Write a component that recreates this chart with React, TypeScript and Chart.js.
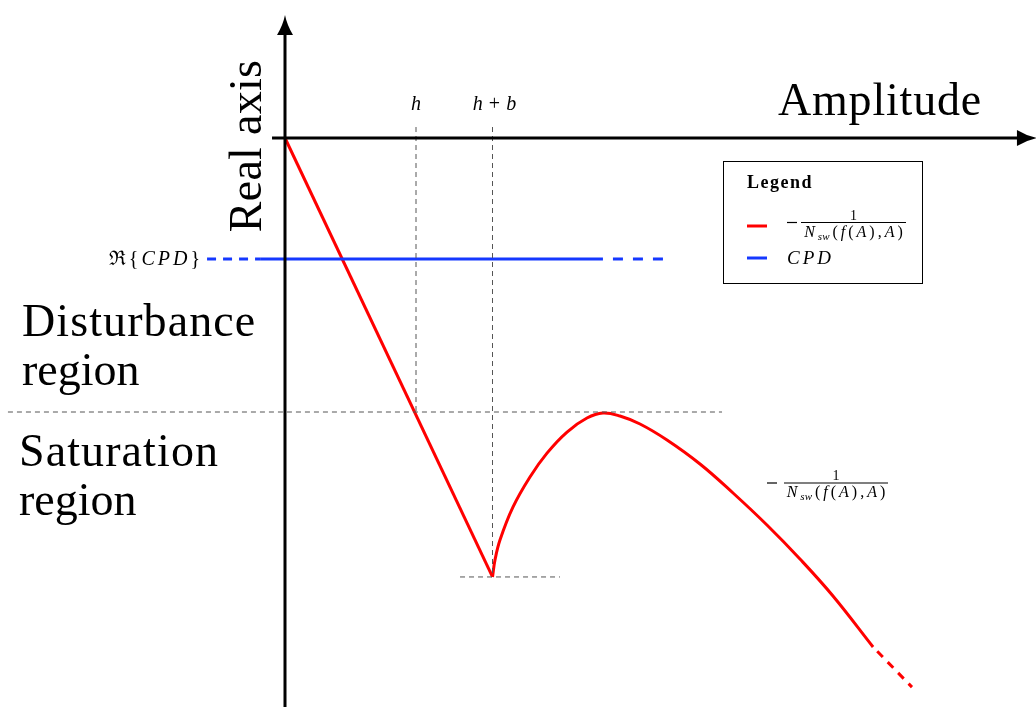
import React, { useEffect, useRef } from 'react';
import { Chart, registerables } from 'chart.js';

Chart.register(...registerables);

// ---- Data (normalised units: h = 1 on the amplitude axis, disturbance/saturation boundary = -1 on the real axis)
const H = 1.0;
const H_PLUS_B = 1.584;
const CPD_RE = -0.4416;
const BOUNDARY_RE = -1.0;
const MIN_RE = -1.602;

const X_RANGE = [-2.1756, 5.7328];
const Y_RANGE = [-2.0766, 0.5036];

const descentX = [0, 1.584];
const descentY = [0, -1.602];
const curveX = [1.584, 1.603, 1.641, 1.74, 1.87, 2.0, 2.153, 2.305, 2.427, 2.557, 2.71, 2.916, 3.168, 3.42, 3.679, 3.931, 4.183, 4.489];
const curveY = [-1.602, -1.54, -1.467, -1.347, -1.237, -1.15, -1.073, -1.022, -1.0036, -1.0146, -1.0438, -1.1022, -1.1898, -1.2956, -1.4124, -1.5365, -1.6715, -1.8577];
const tailX = [4.489, 4.786];
const tailY = [-1.8577, -2.004];
const cpdSolidX = [-0.19, 2.427];
const cpdDashLeftX = [-0.595, -0.19];
const cpdDashRightX = [2.427, 2.9];
const boundaryX = [-2.115, 3.336];
const hGuideY = [0.04, -1.0];
const hbGuideY = [0.04, -1.602];
const minGuideX = [1.336, 2.099];
const xAxisX = [-0.099, 5.74];
const yAxisY = [-2.0766, 0.449];

const RED = '#ff0000';
const BLUE = '#1538ff';
const GREY = '#555555';

const zip = (xs: number[], ys: number[]) => xs.map((x, i) => ({ x, y: ys[i] }));
const flatY = (xs: number[], y: number) => xs.map((x) => ({ x, y }));
const flatX = (x: number, ys: number[]) => ys.map((y) => ({ x, y }));

type Run = { t: string; it?: boolean; size: number; dy?: number; bold?: boolean };

function font(r: Run) {
  return `${r.it ? 'italic ' : ''}${r.bold ? 'bold ' : ''}${r.size}px "Liberation Serif"`;
}

function drawRuns(ctx: CanvasRenderingContext2D, runs: Run[], x: number, y: number, gap: number, align: 'left' | 'center' | 'right') {
  ctx.save();
  ctx.textBaseline = 'alphabetic';
  ctx.textAlign = 'left';
  const widths = runs.map((r) => {
    ctx.font = font(r);
    return ctx.measureText(r.t).width;
  });
  const total = widths.reduce((a, b) => a + b, 0) + gap * (runs.length - 1);
  let cx = align === 'left' ? x : align === 'center' ? x - total / 2 : x - total;
  runs.forEach((r, i) => {
    ctx.font = font(r);
    ctx.fillText(r.t, cx, y + (r.dy || 0));
    cx += widths[i] + gap;
  });
  ctx.restore();
  return total;
}

function drawFraction(ctx: CanvasRenderingContext2D, minusLeft: number, barLeft: number, barRight: number, barY: number) {
  ctx.save();
  ctx.fillStyle = '#000';
  ctx.fillRect(minusLeft, barY - 0.6, 10, 1.2);
  ctx.fillRect(barLeft, barY - 0.5, barRight - barLeft, 1);
  const cx = (barLeft + barRight) / 2;
  drawRuns(ctx, [{ t: '1', size: 14 }], cx, barY - 3, 0, 'center');
  const den: Run[] = [
    { t: 'N', it: true, size: 16 },
    { t: 'sw', it: true, size: 11, dy: 3 },
    { t: '(', size: 16 },
    { t: 'f', it: true, size: 16 },
    { t: '(', size: 16 },
    { t: 'A', it: true, size: 16 },
    { t: ')', size: 16 },
    { t: ',', size: 16 },
    { t: 'A', it: true, size: 16 },
    { t: ')', size: 16 },
  ];
  let sum = 0;
  den.forEach((r) => {
    ctx.font = font(r);
    sum += ctx.measureText(r.t).width;
  });
  const gap = Math.max(0.5, Math.min(3, (barRight - barLeft - 4 - sum) / (den.length - 1)));
  drawRuns(ctx, den, cx, barY + 14, gap, 'center');
  ctx.restore();
}

const annotations = {
  id: 'annotations',
  afterDatasetsDraw(chart: any) {
    const ctx: CanvasRenderingContext2D = chart.ctx;
    const xs = chart.scales.x;
    const ys = chart.scales.y;
    const px = (v: number) => xs.getPixelForValue(v);
    const py = (v: number) => ys.getPixelForValue(v);
    ctx.save();
    // axes
    ctx.strokeStyle = '#000';
    ctx.fillStyle = '#000';
    ctx.lineWidth = 3;
    ctx.beginPath();
    ctx.moveTo(px(xAxisX[0]), py(0));
    ctx.lineTo(px(xAxisX[1]) - 10, py(0));
    ctx.moveTo(px(0), py(yAxisY[0]));
    ctx.lineTo(px(0), py(yAxisY[1]) + 10);
    ctx.stroke();
    // arrowheads
    const tipX = px(xAxisX[1]);
    const ay = py(0);
    ctx.beginPath();
    ctx.moveTo(tipX, ay);
    ctx.quadraticCurveTo(tipX - 10, ay + 2, tipX - 20, ay + 8);
    ctx.lineTo(tipX - 20, ay - 8);
    ctx.quadraticCurveTo(tipX - 10, ay - 2, tipX, ay);
    ctx.fill();
    const tipY = py(yAxisY[1]);
    const ax = px(0);
    ctx.beginPath();
    ctx.moveTo(ax, tipY);
    ctx.quadraticCurveTo(ax + 2, tipY + 10, ax + 8, tipY + 20);
    ctx.lineTo(ax - 8, tipY + 20);
    ctx.quadraticCurveTo(ax - 2, tipY + 10, ax, tipY);
    ctx.fill();

    // axis titles
    ctx.save();
    ctx.font = '46px "Liberation Serif"';
    (ctx as any).letterSpacing = '0.8px';
    ctx.textBaseline = 'alphabetic';
    ctx.textAlign = 'left';
    ctx.fillText('Amplitude', 778, 115);
    ctx.save();
    (ctx as any).letterSpacing = '0.3px';
    ctx.translate(261, 146);
    ctx.rotate(-Math.PI / 2);
    ctx.textAlign = 'center';
    ctx.fillText('Real axis', 0, 0);
    ctx.restore();

    // region labels
    ctx.textAlign = 'left';
    (ctx as any).letterSpacing = '1.1px';
    ctx.fillText('Disturbance', 22, 336);
    ctx.fillText('Saturation', 19, 466);
    (ctx as any).letterSpacing = '0px';
    ctx.fillText('region', 22, 385);
    ctx.fillText('region', 19, 515);
    ctx.restore();

    // h, h+b
    drawRuns(ctx, [{ t: 'h', it: true, size: 20 }], px(H), 110, 0, 'center');
    drawRuns(ctx, [{ t: 'h', it: true, size: 20 }, { t: '+', size: 20 }, { t: 'b', it: true, size: 20 }], px(H_PLUS_B) + 2, 110, 6, 'center');

    // Re{CPD}
    drawRuns(
      ctx,
      [
        { t: 'ℜ', size: 20 },
        { t: '{', size: 20 },
        { t: 'C', it: true, size: 20 },
        { t: 'P', it: true, size: 20 },
        { t: 'D', it: true, size: 20 },
        { t: '}', size: 20 },
      ],
      200,
      py(CPD_RE) + 6,
      3,
      'right'
    );

    // curve label
    drawFraction(ctx, 767, 784, 888, 483);

    // legend
    ctx.fillStyle = '#fff';
    ctx.fillRect(723.5, 161.5, 199, 122);
    ctx.strokeStyle = '#000';
    ctx.lineWidth = 1;
    ctx.strokeRect(723.5, 161.5, 199, 122);
    ctx.fillStyle = '#000';
    ctx.save();
    ctx.font = 'bold 18px "Liberation Serif"';
    (ctx as any).letterSpacing = '1.5px';
    ctx.textAlign = 'left';
    ctx.fillText('Legend', 747, 188);
    ctx.restore();
    ctx.lineWidth = 3;
    ctx.strokeStyle = RED;
    ctx.beginPath();
    ctx.moveTo(747, 226);
    ctx.lineTo(767, 226);
    ctx.stroke();
    ctx.strokeStyle = BLUE;
    ctx.beginPath();
    ctx.moveTo(747, 258);
    ctx.lineTo(767, 258);
    ctx.stroke();
    drawFraction(ctx, 787, 801, 906, 222.5);
    drawRuns(
      ctx,
      [
        { t: 'C', it: true, size: 19 },
        { t: 'P', it: true, size: 19 },
        { t: 'D', it: true, size: 19 },
      ],
      787,
      264,
      3,
      'left'
    );
    ctx.restore();
  },
};

export default function App() {
  const ref = useRef<HTMLCanvasElement | null>(null);
  useEffect(() => {
    if (!ref.current) return;
    const guide = { borderColor: GREY, borderWidth: 1, borderDash: [5, 4], pointRadius: 0, showLine: true, clip: false as any };
    const chart = new Chart(ref.current, {
      type: 'scatter',
      data: {
        datasets: [
          { label: 'boundary', data: flatY(boundaryX, BOUNDARY_RE), ...guide },
          { label: 'h', data: flatX(H, hGuideY), ...guide },
          { label: 'h+b', data: flatX(H_PLUS_B, hbGuideY), ...guide },
          { label: 'min', data: flatY(minGuideX, MIN_RE), ...guide },
          { label: 'CPD', data: flatY(cpdSolidX, CPD_RE), borderColor: BLUE, borderWidth: 3, pointRadius: 0, showLine: true, clip: false as any },
          { label: 'CPD left', data: flatY(cpdDashLeftX, CPD_RE), borderColor: BLUE, borderWidth: 3, borderDash: [9, 7], pointRadius: 0, showLine: true, clip: false as any },
          { label: 'CPD right', data: flatY(cpdDashRightX, CPD_RE), borderColor: BLUE, borderWidth: 3, borderDash: [10, 10], borderDashOffset: -10, pointRadius: 0, showLine: true, clip: false as any },
          { label: '-1/Nsw descent', data: zip(descentX, descentY), borderColor: RED, borderWidth: 3, pointRadius: 0, showLine: true, clip: false as any },
          { label: '-1/Nsw', data: zip(curveX, curveY), borderColor: RED, borderWidth: 3, pointRadius: 0, showLine: true, tension: 0.4, clip: false as any },
          { label: '-1/Nsw tail', data: zip(tailX, tailY), borderColor: RED, borderWidth: 3, borderDash: [8, 7], borderDashOffset: -6, pointRadius: 0, showLine: true, clip: false as any },
        ],
      },
      options: {
        animation: false,
        responsive: true,
        maintainAspectRatio: false,
        layout: { padding: 0 },
        plugins: { legend: { display: false }, tooltip: { enabled: false } },
        scales: {
          x: { type: 'linear', display: false, min: X_RANGE[0], max: X_RANGE[1] },
          y: { type: 'linear', display: false, min: Y_RANGE[0], max: Y_RANGE[1] },
        },
      },
      plugins: [annotations],
    });
    return () => chart.destroy();
  }, []);
  return (
    <div style={{ position: 'fixed', left: 0, top: 0, width: 1036, height: 707, background: '#fff' }}>
      <canvas ref={ref} />
    </div>
  );
}
